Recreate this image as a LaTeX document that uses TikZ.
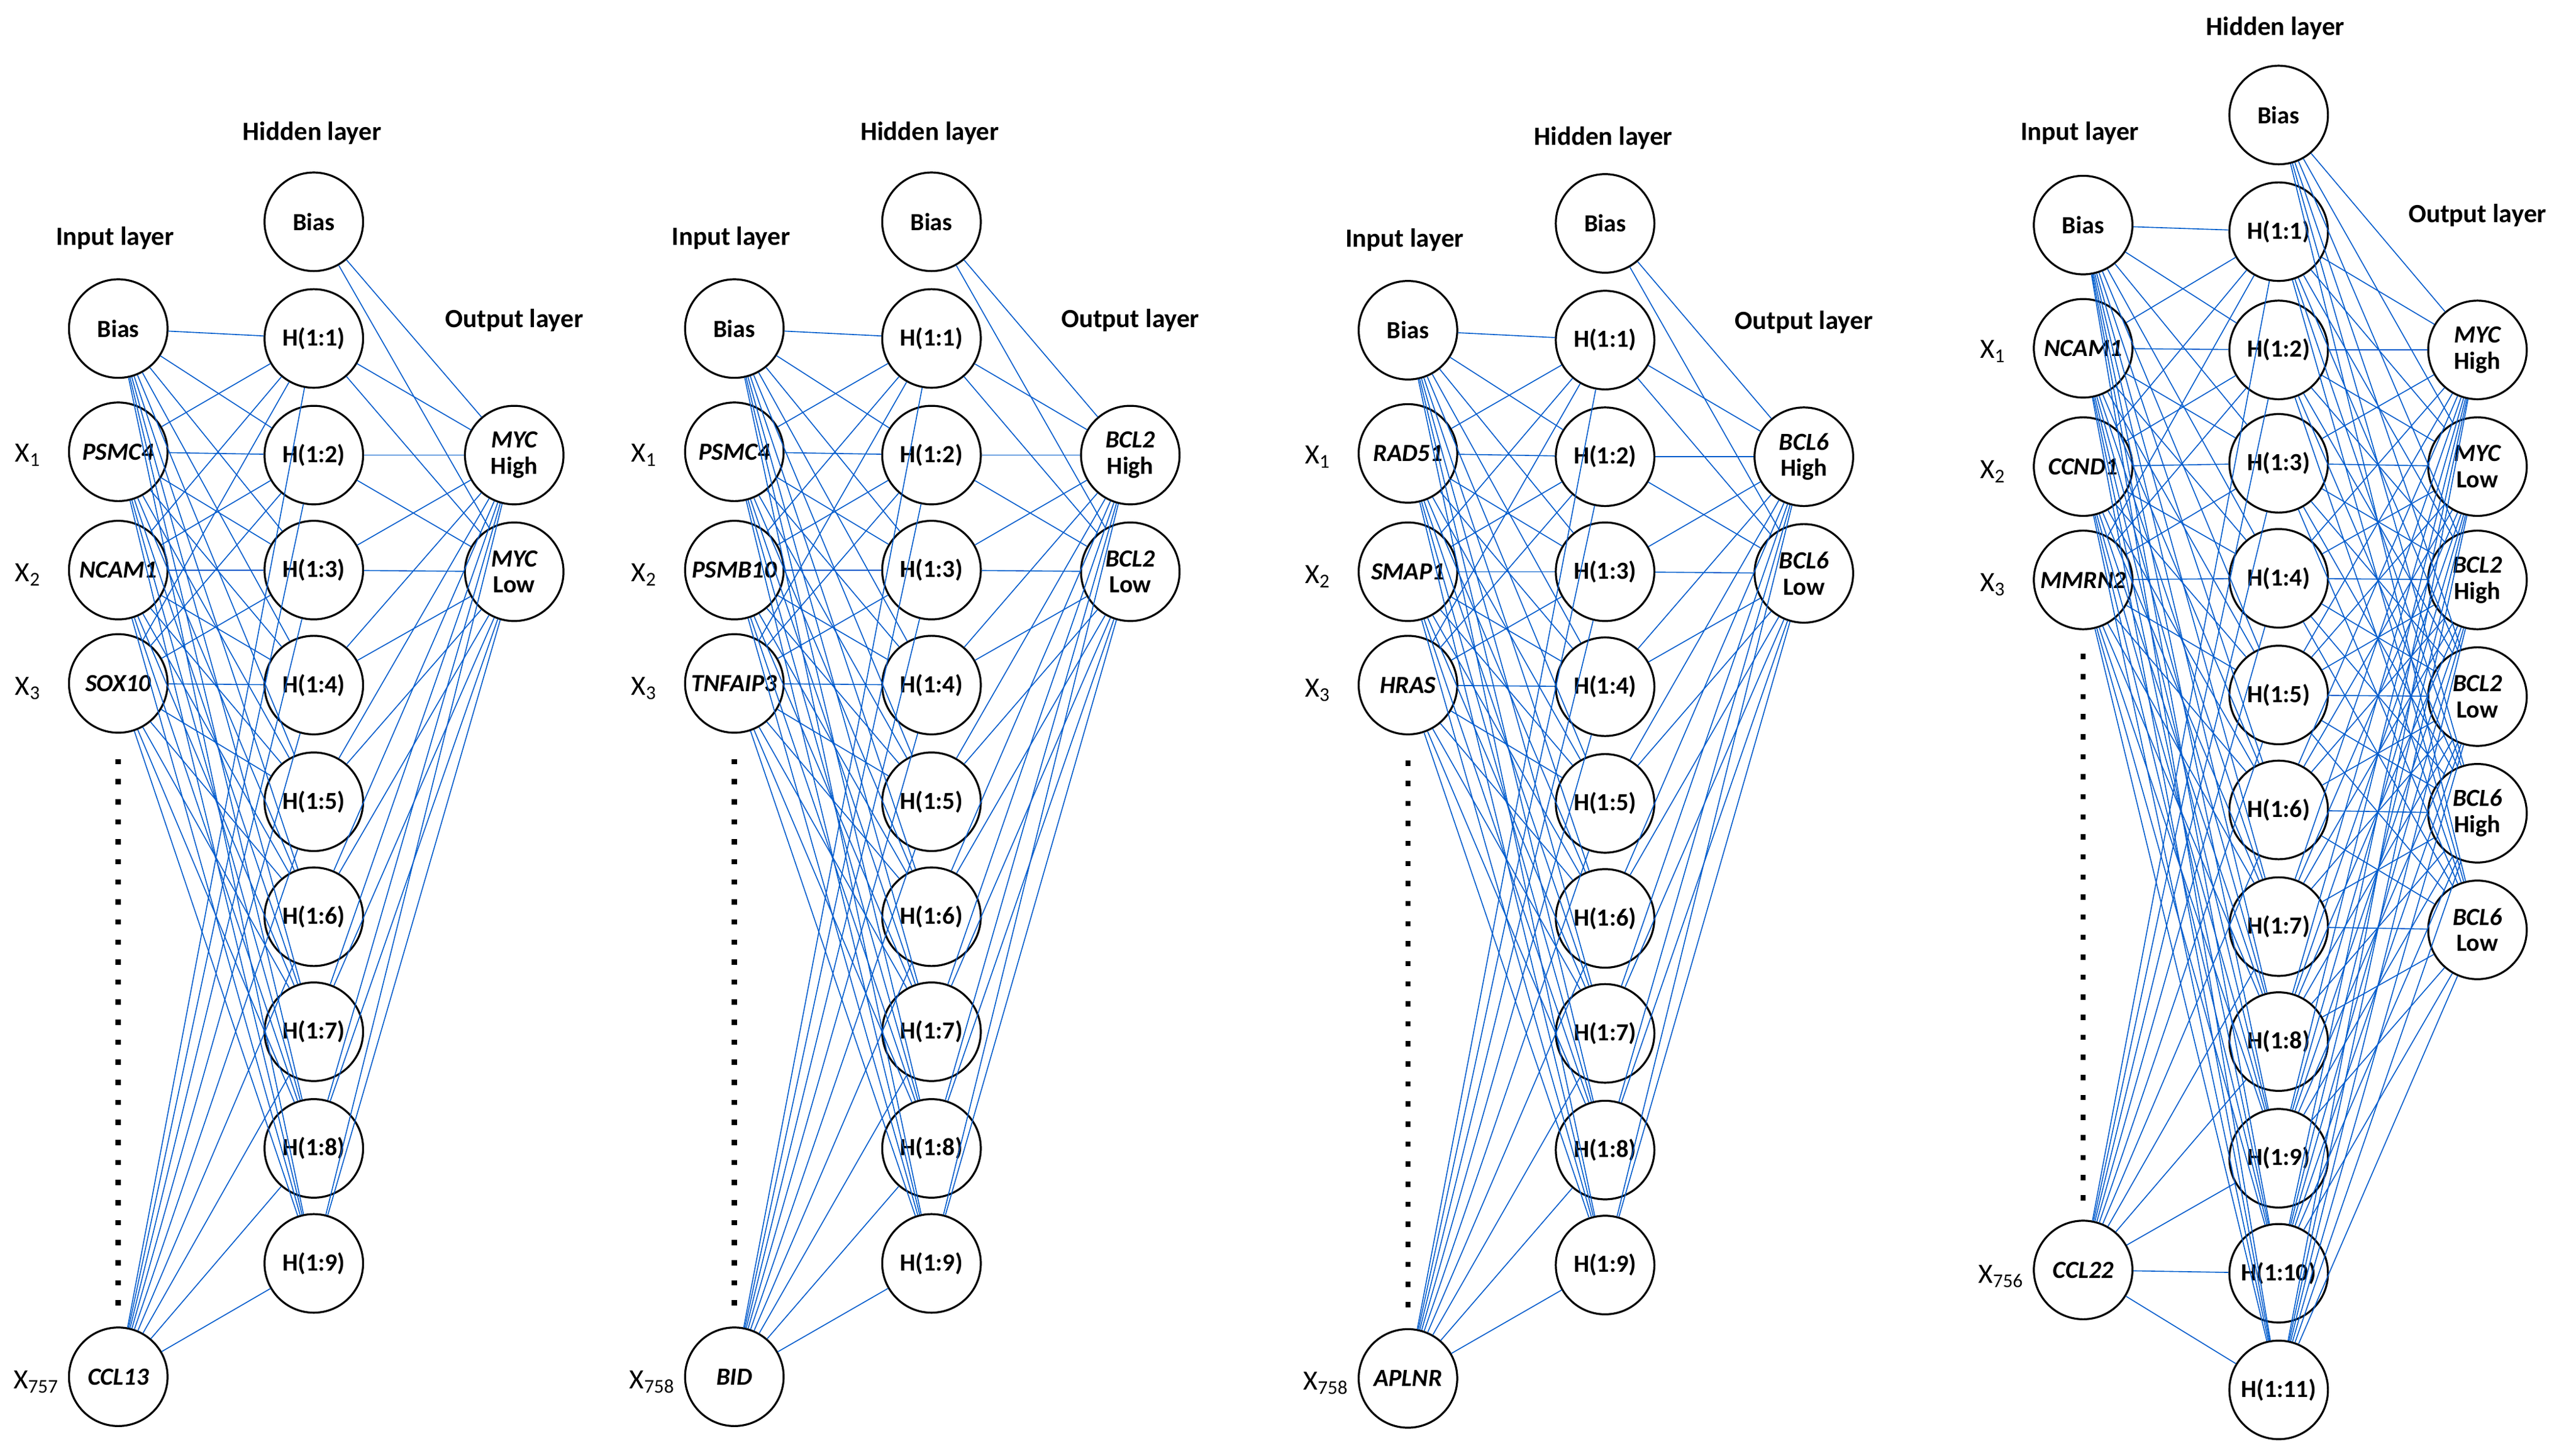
\documentclass[tikz,border=0pt]{standalone}
\usepackage{fontspec}
\setmainfont{Carlito}
\begin{document}
\begin{tikzpicture}[x=1pt,y=-1pt,
 nd/.style={circle,draw=black,line width=1.2pt,minimum size=60pt,inner sep=0pt,font=\fontsize{15}{16}\selectfont\bfseries,align=center},
 gn/.style={nd,font=\fontsize{15}{16}\selectfont\bfseries\itshape},
 ttl/.style={font=\fontsize{16}{18}\selectfont\bfseries},
 xl/.style={font=\fontsize{17}{18}\selectfont},
 ed/.style={draw=blue!55!cyan!80!black,line width=0.6pt},
 dt/.style={line width=3.2pt,dash pattern=on 3.2pt off 9pt}]
\useasboundingbox (0,0) rectangle (1568,883);
% ---------- generic network 1-3
\foreach \n/\xi/\xh/\xo/\dy/\ga/\gb/\gc/\gd/\xn/\out in {
 a/72/191/313/0/PSMC4/NCAM1/SOX10/CCL13/757/MYC,
 b/447/567/688/0/PSMC4/PSMB10/TNFAIP3/BID/758/BCL2,
 c/857/977/1098/1/RAD51/SMAP1/HRAS/APLNR/758/BCL6}{
 \begin{scope}[yshift=-\dy pt]
 \node[ttl] at (\xi-2,145) {Input layer};
 \node[ttl] at (\xh-1,81+\dy*2) {Hidden layer};
 \node[ttl] at (\xo,195) {Output layer};
 \node[nd] (\n i0) at (\xi,200) {Bias};
 \node[gn] (\n i1) at (\xi,275) {\ga};
 \node[gn] (\n i2) at (\xi,347) {\gb};
 \node[gn] (\n i3) at (\xi,416) {\gc};
 \node[gn] (\n i4) at (\xi,838) {\gd};
 \node[xl] at (\xi-55,277) {X\textsubscript{1}};
 \node[xl] at (\xi-55,350) {X\textsubscript{2}};
 \node[xl] at (\xi-55,419) {X\textsubscript{3}};
 \node[xl] at (\xi-50,841) {X\textsubscript{\xn}};
 \draw[dt] (\xi,462) -- (\xi,800);
 \node[nd] (\n h0) at (\xh,135) {Bias};
 \foreach \k/\yy in {1/206,2/277,3/347,4/417,5/488,6/558,7/628,8/699,9/769}
   \node[nd] (\n h\k) at (\xh,\yy) {H(1:\k)};
 \node[gn] (\n o1) at (\xo,277) {\out\\\textup{High}};
 \node[gn] (\n o2) at (\xo,348) {\out\\\textup{Low}};
 \foreach \i in {0,...,4} \foreach \k in {1,...,9} \draw[ed] (\n i\i) -- (\n h\k);
 \foreach \k in {0,...,9} \foreach \o in {1,2} \draw[ed] (\n h\k) -- (\n o\o);
 \end{scope}
}
% ---------- network 4
\node[ttl] at (1266,81) {Input layer};
\node[ttl] at (1385,17) {Hidden layer};
\node[ttl] at (1508,131) {Output layer};
\node[nd] (di0) at (1268,137) {Bias};
\node[gn] (di1) at (1268,212) {NCAM1};
\node[gn] (di2) at (1268,284) {CCND1};
\node[gn] (di3) at (1268,353) {MMRN2};
\node[gn] (di4) at (1268,773) {CCL22};
\node[xl] at (1213,214) {X\textsubscript{1}};
\node[xl] at (1213,287) {X\textsubscript{2}};
\node[xl] at (1213,356) {X\textsubscript{3}};
\node[xl] at (1218,777) {X\textsubscript{756}};
\draw[dt] (1268,398) -- (1268,735);
\node[nd] (dh0) at (1387,70) {Bias};
\foreach \k/\yy in {1/141,2/213,3/282,4/352,5/423,6/493,7/564,8/634,9/705,10/775,11/846}
  \node[nd] (dh\k) at (1387,\yy) {H(1:\k)};
\foreach \o/\yy/\g/\l in {1/213/MYC/High,2/284/MYC/Low,3/353/BCL2/High,4/424/BCL2/Low,5/495/BCL6/High,6/566/BCL6/Low}
  \node[gn] (do\o) at (1508,\yy) {\g\\\textup{\l}};
\foreach \i in {0,...,4} \foreach \k in {1,...,11} \draw[ed] (di\i) -- (dh\k);
\foreach \k in {0,...,11} \foreach \o in {1,...,6} \draw[ed] (dh\k) -- (do\o);
\end{tikzpicture}
\end{document}
